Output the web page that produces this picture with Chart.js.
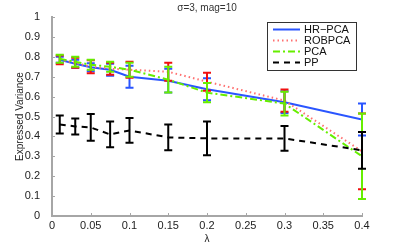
<!DOCTYPE html>
<html>
<head>
<meta charset="utf-8">
<script src="https://cdn.jsdelivr.net/npm/chart.js@4.4.0/dist/chart.umd.min.js"></script>
<style>
  html, body { margin: 0; padding: 0; background: #fff; }
  #wrap { width: 399px; height: 245px; }
</style>
</head>
<body>
<div id="wrap"><canvas id="myChart" width="399" height="245"></canvas></div>
<script>
    // lambda values
    const lambdas = [0.01, 0.03, 0.05, 0.075, 0.1, 0.15, 0.2, 0.3, 0.4];

    const hrpca    = [0.785, 0.765, 0.748, 0.735, 0.700, 0.680, 0.637, 0.572, 0.485];
    const hrpcaErr = [0.015, 0.020, 0.020, 0.030, 0.055, 0.060, 0.055, 0.055, 0.080];

    const robpca    = [0.785, 0.770, 0.750, 0.740, 0.735, 0.725, 0.675, 0.580, 0.325];
    const robpcaErr = [0.022, 0.025, 0.033, 0.030, 0.040, 0.045, 0.045, 0.056, 0.190];

    const pca    = [0.790, 0.775, 0.760, 0.750, 0.735, 0.685, 0.620, 0.565, 0.300];
    const pcaErr = [0.020, 0.025, 0.025, 0.025, 0.035, 0.065, 0.048, 0.060, 0.215];

    const pp    = [0.460, 0.450, 0.445, 0.410, 0.430, 0.395, 0.390, 0.390, 0.330];
    const ppErr = [0.045, 0.040, 0.067, 0.065, 0.062, 0.065, 0.085, 0.062, 0.092];

    const FONT = '"Liberation Sans", Arial, sans-serif';

    function pts(vals) {
        return lambdas.map(function (x, i) { return { x: x, y: vals[i] }; });
    }

    // error bars drawn right after each dataset line, using the chart scales
    const errorBars = {
        id: 'errorBars',
        afterDatasetDraw: function (chart, args) {
            const ds = chart.data.datasets[args.index];
            if (!ds.err) return;
            const ctx = chart.ctx;
            const xs = chart.scales.x, ys = chart.scales.y;
            ctx.save();
            ctx.strokeStyle = ds.barColor;
            ctx.lineWidth = 2;
            ctx.setLineDash([]);
            ds.data.forEach(function (p, i) {
                const px = xs.getPixelForValue(p.x);
                const top = ys.getPixelForValue(p.y + ds.err[i]);
                const bot = ys.getPixelForValue(p.y - ds.err[i]);
                ctx.beginPath();
                ctx.moveTo(px, top); ctx.lineTo(px, bot);
                ctx.moveTo(px - 4, top); ctx.lineTo(px + 4, top);
                ctx.moveTo(px - 4, bot); ctx.lineTo(px + 4, bot);
                ctx.stroke();
            });
            ctx.restore();
        },
        afterDraw: function (chart) {
            const ctx = chart.ctx;
            const xs = chart.scales.x, ys = chart.scales.y;
            const area = chart.chartArea;
            ctx.save();
            // inward ticks
            ctx.strokeStyle = '#a6a6a6';
            ctx.lineWidth = 1;
            xs.ticks.forEach(function (t) {
                const px = Math.round(xs.getPixelForValue(t.value)) + 0.5;
                ctx.beginPath(); ctx.moveTo(px, area.bottom); ctx.lineTo(px, area.bottom - 3); ctx.stroke();
            });
            ys.ticks.forEach(function (t) {
                const py = Math.round(ys.getPixelForValue(t.value)) + 0.5;
                ctx.beginPath(); ctx.moveTo(area.left, py); ctx.lineTo(area.left + 3, py); ctx.stroke();
            });

            // title
            ctx.fillStyle = '#333';
            ctx.font = '10px ' + FONT;
            ctx.textAlign = 'center';
            ctx.textBaseline = 'middle';
            ctx.fillText('\u03c3=3, mag=10', (area.left + area.right) / 2, 8);

            // legend
            const lx = 267, ly = 22, lw = 89, lh = 48;
            ctx.fillStyle = '#fff';
            ctx.fillRect(lx, ly, lw, lh);
            ctx.strokeStyle = '#333';
            ctx.lineWidth = 1;
            ctx.strokeRect(lx + 0.5, ly + 0.5, lw, lh);
            ctx.font = '11px ' + FONT;
            ctx.textAlign = 'left';
            const order = [0, 1, 2, 3];
            order.forEach(function (k, j) {
                const ds = chart.data.datasets[k];
                const y = ly + 7.5 + j * 11;
                ctx.strokeStyle = ds.borderColor;
                ctx.lineWidth = ds.borderWidth;
                ctx.setLineDash(ds.borderDash || []);
                ctx.beginPath(); ctx.moveTo(lx + 6, y); ctx.lineTo(lx + 33, y); ctx.stroke();
                ctx.setLineDash([]);
                ctx.fillStyle = '#111';
                ctx.fillText(ds.label, lx + 37, y + 0.5);
            });
            ctx.restore();
        }
    };

    const ctx1 = document.getElementById('myChart').getContext('2d');
    const myChart = new Chart(ctx1, {
        type: 'line',
        data: {
            datasets: [
                { label: 'HR\u2212PCA', data: pts(hrpca), err: hrpcaErr, order: 4,
                  borderColor: '#2a55ff', barColor: '#2a55ff', borderWidth: 2 },
                { label: 'ROBPCA', data: pts(robpca), err: robpcaErr, order: 3,
                  borderColor: '#ff7070', barColor: '#f01010', borderWidth: 2, borderDash: [1.5, 3] },
                { label: 'PCA', data: pts(pca), err: pcaErr, order: 2,
                  borderColor: '#66ee00', barColor: '#66ee00', borderWidth: 2, borderDash: [7, 3, 2, 3] },
                { label: 'PP', data: pts(pp), err: ppErr, order: 1,
                  borderColor: '#000', barColor: '#000', borderWidth: 2, borderDash: [6, 5] }
            ]
        },
        options: {
            responsive: false,
            animation: false,
            elements: { point: { radius: 0 }, line: { tension: 0 } },
            layout: { padding: { top: 17, right: 37, left: 0, bottom: 0 } },
            plugins: {
                legend: { display: false },
                title: { display: false },
                tooltip: { enabled: false }
            },
            scales: {
                x: {
                    type: 'linear',
                    min: 0,
                    max: 0.4,
                    afterFit: function (s) { s.height = 29; },
                    grid: { display: false },
                    border: { display: true, color: '#a6a6a6', width: 2 },
                    ticks: {
                        stepSize: 0.05,
                        padding: -5,
                        color: '#222',
                        font: { family: FONT, size: 11 },
                        callback: function (v) { return String(+v.toFixed(2)); }
                    },
                    title: { display: true, text: '\u03bb', color: '#222', padding: { top: 4, bottom: 0 },
                             font: { family: FONT, size: 10 } }
                },
                y: {
                    min: 0,
                    max: 1,
                    afterFit: function (s) { s.width = 52; },
                    grid: { display: false },
                    border: { display: true, color: '#a6a6a6', width: 2 },
                    ticks: {
                        stepSize: 0.1,
                        padding: 4,
                        color: '#222',
                        font: { family: FONT, size: 11 },
                        callback: function (v) { return String(+v.toFixed(1)); }
                    },
                    title: { display: true, text: 'Expressed Variance', color: '#222',
                             padding: { top: 14, bottom: 0 },
                             font: { family: FONT, size: 10 } }
                }
            }
        },
        plugins: [errorBars]
    });
</script>
</body>
</html>
